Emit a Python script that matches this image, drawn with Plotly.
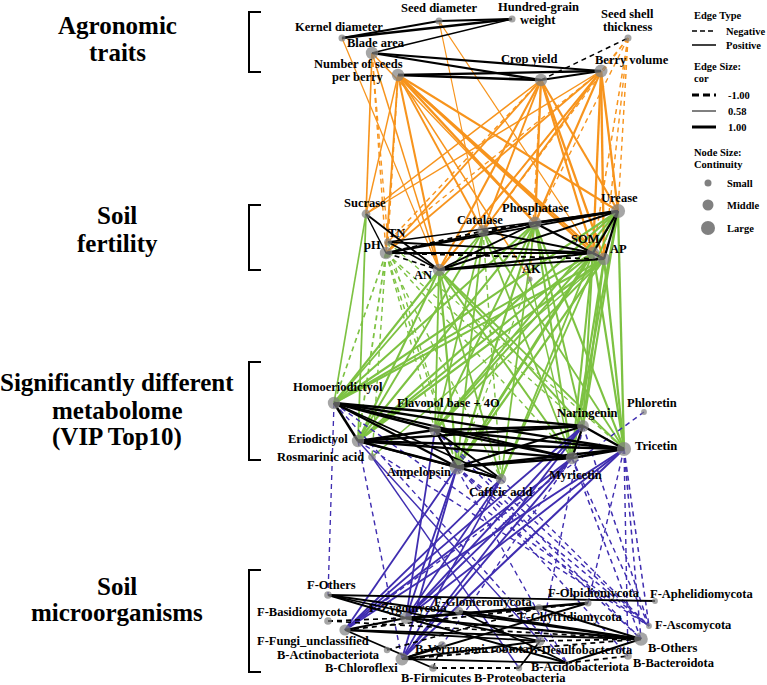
import plotly.graph_objects as go

# ------------------------------------------------------------------ data
agronomic_nodes = ["Kernel diameter", "Seed diameter", "Hundred-grain weight", "Blade area",
                   "Number of seeds per berry", "Crop yield", "Berry volume", "Seed shell thickness"]
agronomic_continuity = [0.25, 0.25, 0.25, 0.7, 0.7, 0.7, 0.75, 0.25]

soil_nodes = ["Sucrase", "TN", "pH", "Catalase", "Phosphatase", "Urease", "SOM", "AP", "AN", "AK"]
soil_continuity = [0.4, 0.3, 0.7, 0.65, 0.75, 0.85, 0.7, 0.7, 0.7, 0.1]

metabolite_nodes = ["Homoeriodictyol", "Flavonol base + 4O", "Naringenin", "Phloretin", "Eriodictyol",
                    "Tricetin", "Rosmarinic acid", "Ampelopsin", "Myricetin", "Caffeic acid"]
metabolite_continuity = [0.7, 0.65, 0.65, 0.15, 0.7, 0.85, 0.3, 0.9, 0.7, 0.55]

microbe_nodes = ["F-Others", "F-Basidiomycota", "F-Fungi_unclassified", "F-Zygomycota", "F-Glomeromycota",
                 "F-Chytridiomycota", "F-Olpidiomycota", "F-Aphelidiomycota", "F-Ascomycota", "B-Others",
                 "B-Actinobacteriota", "B-Chloroflexi", "B-Verrucomicrobiota", "B-Desulfobacterota",
                 "B-Bacteroidota", "B-Acidobacteriota", "B-Firmicutes", "B-Proteobacteria"]
microbe_continuity = [0.3, 0.3, 0.6, 0.65, 0.35, 0.3, 0.25, 0.15, 0.15, 0.8,
                      0.2, 0.75, 0.3, 0.45, 0.3, 0.05, 0.3, 0.2]

# edges: (node A, node B, correlation)
agro_edges = [
    ("Kernel diameter", "Seed diameter", 0.9), ("Kernel diameter", "Hundred-grain weight", 0.92),
    ("Seed diameter", "Hundred-grain weight", 0.88), ("Blade area", "Hundred-grain weight", 0.75),
    ("Blade area", "Berry volume", 0.85), ("Blade area", "Crop yield", 0.9),
    ("Number of seeds per berry", "Crop yield", 0.97), ("Number of seeds per berry", "Berry volume", 0.9),
    ("Crop yield", "Berry volume", 0.85), ("Crop yield", "Seed shell thickness", -0.72),
]
agro_soil_edges = [
    ("Blade area", "Sucrase", 0.75), ("Blade area", "pH", -0.7), ("Blade area", "TN", -0.68),
    ("Blade area", "AN", 0.72), ("Blade area", "Phosphatase", 0.7),
    ("Kernel diameter", "AN", 0.66), ("Seed diameter", "Catalase", 0.65), ("Seed diameter", "SOM", 0.66),
    ("Number of seeds per berry", "pH", 0.8), ("Number of seeds per berry", "TN", -0.7),
    ("Number of seeds per berry", "AN", 0.85), ("Number of seeds per berry", "Catalase", 0.8),
    ("Number of seeds per berry", "Phosphatase", 0.95), ("Number of seeds per berry", "SOM", 0.95),
    ("Number of seeds per berry", "AP", 0.9), ("Number of seeds per berry", "Urease", 0.88),
    ("Number of seeds per berry", "AK", 0.7), ("Number of seeds per berry", "Sucrase", 0.7),
    ("Crop yield", "Sucrase", 0.72), ("Crop yield", "pH", 0.8), ("Crop yield", "TN", -0.7),
    ("Crop yield", "AN", 0.85), ("Crop yield", "Catalase", 0.82), ("Crop yield", "Phosphatase", 0.9),
    ("Crop yield", "SOM", 0.88), ("Crop yield", "AP", 0.9), ("Crop yield", "Urease", 0.86),
    ("Crop yield", "AK", -0.66),
    ("Berry volume", "Sucrase", 0.7), ("Berry volume", "pH", 0.78), ("Berry volume", "TN", -0.68),
    ("Berry volume", "AN", 0.84), ("Berry volume", "Catalase", 0.8), ("Berry volume", "Phosphatase", 0.86),
    ("Berry volume", "SOM", 0.9), ("Berry volume", "AP", 0.92), ("Berry volume", "Urease", 0.9),
    ("Seed shell thickness", "Urease", -0.7), ("Seed shell thickness", "SOM", -0.72),
    ("Seed shell thickness", "AP", -0.7), ("Seed shell thickness", "Phosphatase", -0.68),
    ("Seed shell thickness", "Catalase", -0.66), ("Seed shell thickness", "AN", -0.66),
]
soil_edges = [
    ("Sucrase", "AN", 0.8), ("Sucrase", "pH", 0.7), ("pH", "Catalase", -0.8), ("pH", "SOM", 0.85),
    ("pH", "AP", -0.8), ("pH", "Phosphatase", 0.8), ("pH", "AN", -0.78), ("TN", "AN", 0.75),
    ("TN", "SOM", 0.78), ("TN", "Urease", 0.72), ("Catalase", "Phosphatase", -0.85),
    ("Catalase", "Urease", -0.82), ("Catalase", "SOM", 0.8), ("Phosphatase", "Urease", 0.95),
    ("Phosphatase", "AP", 0.85), ("Phosphatase", "AN", 0.8), ("AN", "SOM", 0.85), ("AN", "AP", 0.82),
    ("AN", "Urease", 0.85), ("Urease", "SOM", 0.88), ("Urease", "AP", 0.9), ("SOM", "AP", 0.92),
    ("pH", "Urease", 0.8),
]
soil_metab_edges = [
    ("pH", "Homoeriodictyol", -0.75), ("pH", "Eriodictyol", -0.78), ("pH", "Rosmarinic acid", -0.7),
    ("pH", "Flavonol base + 4O", -0.7), ("pH", "Ampelopsin", -0.72), ("pH", "Caffeic acid", -0.68),
    ("pH", "Myricetin", -0.7), ("pH", "Naringenin", -0.68),
    ("Sucrase", "Homoeriodictyol", 0.75), ("Sucrase", "Eriodictyol", 0.78),
    ("TN", "Ampelopsin", -0.68), ("TN", "Tricetin", -0.66),
    ("AN", "Homoeriodictyol", 0.85), ("AN", "Eriodictyol", 0.85), ("AN", "Flavonol base + 4O", 0.8),
    ("AN", "Ampelopsin", 0.88), ("AN", "Myricetin", 0.82), ("AN", "Naringenin", 0.8),
    ("AN", "Tricetin", 0.82), ("AN", "Caffeic acid", 0.78),
    ("Catalase", "Homoeriodictyol", 0.8), ("Catalase", "Eriodictyol", 0.82), ("Catalase", "Ampelopsin", 0.8),
    ("Catalase", "Flavonol base + 4O", 0.78), ("Catalase", "Myricetin", 0.78), ("Catalase", "Tricetin", 0.8),
    ("Catalase", "Caffeic acid", -0.7),
    ("Phosphatase", "Homoeriodictyol", 0.85), ("Phosphatase", "Eriodictyol", 0.86),
    ("Phosphatase", "Flavonol base + 4O", 0.82), ("Phosphatase", "Ampelopsin", 0.88),
    ("Phosphatase", "Naringenin", 0.82), ("Phosphatase", "Myricetin", 0.84),
    ("Phosphatase", "Tricetin", 0.85), ("Phosphatase", "Caffeic acid", 0.78),
    ("AK", "Ampelopsin", -0.66), ("AK", "Myricetin", 0.7),
    ("SOM", "Homoeriodictyol", 0.85), ("SOM", "Eriodictyol", 0.86), ("SOM", "Flavonol base + 4O", 0.82),
    ("SOM", "Ampelopsin", 0.88), ("SOM", "Naringenin", 0.84), ("SOM", "Myricetin", 0.85),
    ("SOM", "Tricetin", 0.88), ("SOM", "Caffeic acid", 0.8),
    ("AP", "Homoeriodictyol", 0.86), ("AP", "Eriodictyol", 0.88), ("AP", "Flavonol base + 4O", 0.82),
    ("AP", "Ampelopsin", 0.88), ("AP", "Naringenin", 0.85), ("AP", "Myricetin", 0.86),
    ("AP", "Tricetin", 0.9), ("AP", "Rosmarinic acid", 0.72),
    ("Urease", "Homoeriodictyol", 0.88), ("Urease", "Eriodictyol", 0.9), ("Urease", "Flavonol base + 4O", 0.84),
    ("Urease", "Ampelopsin", 0.9), ("Urease", "Naringenin", 0.86), ("Urease", "Myricetin", 0.86),
    ("Urease", "Tricetin", 0.9), ("Urease", "Caffeic acid", 0.8),
]
metab_edges = [
    ("Homoeriodictyol", "Eriodictyol", 0.95), ("Homoeriodictyol", "Naringenin", 0.9),
    ("Homoeriodictyol", "Tricetin", 0.92), ("Homoeriodictyol", "Flavonol base + 4O", 0.93),
    ("Homoeriodictyol", "Ampelopsin", 0.92), ("Homoeriodictyol", "Myricetin", 0.9),
    ("Homoeriodictyol", "Caffeic acid", 0.8), ("Eriodictyol", "Naringenin", 0.92),
    ("Eriodictyol", "Tricetin", 0.95), ("Eriodictyol", "Myricetin", 0.92), ("Eriodictyol", "Ampelopsin", 0.93),
    ("Eriodictyol", "Flavonol base + 4O", 0.9), ("Flavonol base + 4O", "Naringenin", 0.92),
    ("Flavonol base + 4O", "Tricetin", 0.93), ("Flavonol base + 4O", "Myricetin", 0.9),
    ("Flavonol base + 4O", "Ampelopsin", 0.9), ("Flavonol base + 4O", "Caffeic acid", 0.82),
    ("Ampelopsin", "Naringenin", 0.9), ("Ampelopsin", "Tricetin", 0.95), ("Ampelopsin", "Myricetin", 0.95),
    ("Naringenin", "Tricetin", 0.92), ("Naringenin", "Myricetin", 0.9), ("Myricetin", "Tricetin", 0.95),
    ("Ampelopsin", "Caffeic acid", 0.85), ("Eriodictyol", "Caffeic acid", 0.8),
]
metab_microbe_edges = [
    ("Homoeriodictyol", "B-Acidobacteriota", -0.7), ("Homoeriodictyol", "F-Ascomycota", -0.7),
    ("Homoeriodictyol", "F-Others", -0.68),
    ("Eriodictyol", "B-Chloroflexi", -0.7), ("Eriodictyol", "B-Desulfobacterota", 0.7),
    ("Eriodictyol", "F-Ascomycota", -0.7), ("Rosmarinic acid", "B-Proteobacteria", 0.7),
    ("Ampelopsin", "F-Zygomycota", 0.8), ("Ampelopsin", "F-Fungi_unclassified", 0.8),
    ("Ampelopsin", "B-Chloroflexi", 0.8), ("Ampelopsin", "B-Others", -0.72),
    ("Ampelopsin", "F-Ascomycota", -0.72), ("Ampelopsin", "B-Bacteroidota", -0.7),
    ("Caffeic acid", "F-Fungi_unclassified", 0.78), ("Caffeic acid", "F-Zygomycota", 0.78),
    ("Caffeic acid", "B-Chloroflexi", 0.75), ("Caffeic acid", "F-Ascomycota", -0.68),
    ("Myricetin", "F-Zygomycota", 0.8), ("Myricetin", "B-Chloroflexi", 0.82),
    ("Myricetin", "B-Verrucomicrobiota", -0.7), ("Myricetin", "F-Fungi_unclassified", 0.8),
    ("Myricetin", "B-Others", -0.72), ("Myricetin", "F-Ascomycota", -0.7),
    ("Naringenin", "B-Chloroflexi", 0.8), ("Naringenin", "F-Zygomycota", 0.8),
    ("Naringenin", "F-Ascomycota", -0.72), ("Naringenin", "B-Desulfobacterota", -0.7),
    ("Naringenin", "F-Fungi_unclassified", 0.78),
    ("Tricetin", "F-Fungi_unclassified", 0.82), ("Tricetin", "B-Chloroflexi", 0.85),
    ("Tricetin", "F-Zygomycota", 0.82), ("Tricetin", "B-Others", -0.72),
    ("Tricetin", "B-Bacteroidota", -0.7), ("Tricetin", "F-Ascomycota", -0.72),
    ("Tricetin", "F-Olpidiomycota", -0.7),
    ("Phloretin", "F-Fungi_unclassified", -0.7),
    ("Flavonol base + 4O", "F-Ascomycota", -0.7), ("Flavonol base + 4O", "B-Others", -0.7),
    ("Flavonol base + 4O", "F-Zygomycota", 0.78), ("Flavonol base + 4O", "B-Acidobacteriota", -0.68),
]
microbe_edges = [
    ("F-Others", "F-Aphelidiomycota", 0.8), ("F-Others", "B-Others", 0.82), ("F-Others", "F-Zygomycota", 0.8),
    ("F-Others", "B-Desulfobacterota", 0.78), ("F-Basidiomycota", "F-Zygomycota", -0.75),
    ("F-Basidiomycota", "B-Others", -0.75), ("F-Fungi_unclassified", "F-Olpidiomycota", -0.78),
    ("F-Fungi_unclassified", "B-Others", 0.82), ("F-Fungi_unclassified", "B-Firmicutes", 0.8),
    ("F-Fungi_unclassified", "B-Desulfobacterota", 0.8), ("F-Fungi_unclassified", "F-Zygomycota", 0.82),
    ("F-Zygomycota", "F-Olpidiomycota", 0.9), ("F-Zygomycota", "B-Others", 0.9),
    ("F-Zygomycota", "F-Chytridiomycota", 0.9), ("F-Zygomycota", "B-Acidobacteriota", 0.8),
    ("F-Glomeromycota", "B-Others", 0.85), ("F-Glomeromycota", "B-Acidobacteriota", 0.8),
    ("B-Chloroflexi", "F-Olpidiomycota", 0.8), ("B-Chloroflexi", "B-Others", -0.78),
    ("B-Chloroflexi", "B-Desulfobacterota", 0.82), ("B-Chloroflexi", "B-Acidobacteriota", 0.8),
    ("B-Chloroflexi", "B-Verrucomicrobiota", 0.8), ("B-Actinobacteriota", "F-Chytridiomycota", -0.75),
    ("B-Firmicutes", "B-Proteobacteria", -0.8), ("B-Firmicutes", "B-Verrucomicrobiota", -0.72),
    ("B-Acidobacteriota", "B-Others", 0.8), ("B-Acidobacteriota", "B-Bacteroidota", -0.78),
    ("B-Desulfobacterota", "B-Others", -0.78), ("B-Desulfobacterota", "B-Proteobacteria", 0.75),
    ("F-Chytridiomycota", "B-Others", 0.85),
]

group_title_lines = [["Agronomic", "traits"], ["Soil", "fertility"],
                     ["Significantly different", "metabolome", "(VIP Top10)"], ["Soil", "microorganisms"]]

# ------------------------------------------------------------------ layout (canvas px)
# name: (x, y, label dx, label dy, label anchor)
node_layout = {
    "Kernel diameter": (342, 38, -3, -11, "center"), "Seed diameter": (439, 21, 0, -13, "center"),
    "Hundred-grain weight": (512, 19, 26, -6, "center"), "Blade area": (372, 53, 4, -10, "center"),
    "Number of seeds per berry": (398, 75, -40, -5, "center"), "Crop yield": (541, 80, -12, -21, "center"),
    "Berry volume": (601, 71, 31, -11, "center"), "Seed shell thickness": (628, 38, -1, -18, "center"),
    "Sucrase": (366, 214, -1, -11, "center"), "TN": (388, 242, 8, -9, "center"),
    "pH": (386, 253, -14, -8, "center"), "Catalase": (483, 231, -3, -11, "center"),
    "Phosphatase": (535, 223, 0, -15, "center"), "Urease": (618, 211, 1, -13, "center"),
    "SOM": (593, 253, -8, -14, "center"), "AP": (604, 259, 14, -10, "center"),
    "AN": (439, 270, -16, 5, "center"), "AK": (530, 279, 1, -10, "center"),
    "Homoeriodictyol": (334, 403, 4, -16, "center"), "Flavonol base + 4O": (435, 430, 13, -27, "center"),
    "Naringenin": (583, 426, 4, -13, "center"), "Phloretin": (644, 412, 8, -9, "center"),
    "Eriodictyol": (358, 441, -8, -2, "right"), "Tricetin": (624, 449, 9, -3, "left"),
    "Rosmarinic acid": (372, 457, -6, 0, "right"), "Ampelopsin": (457, 467, -38, 5, "center"),
    "Myricetin": (572, 458, 3, 17, "center"), "Caffeic acid": (501, 479, 0, 13, "center"),
    "F-Others": (328, 595, 3, -10, "center"), "F-Basidiomycota": (328, 621, -26, -9, "center"),
    "F-Fungi_unclassified": (345, 630, -32, 11, "center"), "F-Zygomycota": (406, 618, 2, -10, "center"),
    "F-Glomeromycota": (459, 611, 24, -9, "center"), "F-Chytridiomycota": (539, 608, 32, 9, "center"),
    "F-Olpidiomycota": (588, 603, 6, -10, "center"), "F-Aphelidiomycota": (655, 601, -7, -7, "left"),
    "F-Ascomycota": (649, 626, 4, -1, "left"), "B-Others": (641, 639, 31, 9, "center"),
    "B-Actinobacteriota": (387, 650, -5, 5, "right"), "B-Chloroflexi": (402, 659, -41, 9, "center"),
    "B-Verrucomicrobiota": (442, 645, 30, 4, "center"), "B-Desulfobacterota": (540, 641, 41, 9, "center"),
    "B-Bacteroidota": (628, 656, 46, 7, "center"), "B-Acidobacteriota": (567, 663, 13, 4, "center"),
    "B-Firmicutes": (433, 668, 3, 10, "center"), "B-Proteobacteria": (519, 668, 1, 10, "center"),
}
label_lines = {"Hundred-grain weight": ["Hundred-grain", "weight"],
               "Number of seeds per berry": ["Number of seeds", "per berry"],
               "Seed shell thickness": ["Seed shell", "thickness"]}
title_line_y = [[25, 52], [215, 243], [382, 410, 437], [586, 612]]
title_x = 117
brackets = [(12, 72), (205, 270), (362, 460), (570, 672)]

FONT = "Liberation Serif"
NODE_COLOR = "#808080"
ORANGE, GREEN, PURPLE, BLACK = "#F7941D", "#7DC242", "#3F2DB0", "#000000"


def width_of(c):
    return 1.0 + (abs(c) - 0.6) / 0.4 * 1.7


fig = go.Figure()


def add_edges(edges, color):
    for a, b, c in edges:
        xa, ya = node_layout[a][:2]
        xb, yb = node_layout[b][:2]
        fig.add_trace(go.Scatter(
            x=[xa, xb], y=[ya, yb], mode="lines", hoverinfo="skip", showlegend=False,
            line=dict(color=color, width=width_of(c), dash="solid" if c > 0 else "5px,4px")))


add_edges(agro_soil_edges, ORANGE)
add_edges(soil_metab_edges, GREEN)
add_edges(metab_microbe_edges, PURPLE)
for e in (agro_edges, soil_edges, metab_edges, microbe_edges):
    add_edges(e, BLACK)

annotations = []
for names, cont in ((agronomic_nodes, agronomic_continuity), (soil_nodes, soil_continuity),
                    (metabolite_nodes, metabolite_continuity), (microbe_nodes, microbe_continuity)):
    fig.add_trace(go.Scatter(
        x=[node_layout[n][0] for n in names], y=[node_layout[n][1] for n in names],
        mode="markers", showlegend=False, hoverinfo="text", text=names,
        marker=dict(color=NODE_COLOR, size=[4 + 12 * c for c in cont], line=dict(width=0))))
    for n in names:
        x, y, dx, dy, anc = node_layout[n]
        lines = label_lines.get(n, [n])
        k = len(lines)
        for i, ln in enumerate(lines):
            annotations.append(dict(
                x=x + dx, y=y + dy + (i - (k - 1) / 2) * 13, text="<b>" + ln + "</b>",
                showarrow=False, xref="x", yref="y", xanchor=anc, yanchor="middle",
                font=dict(family=FONT, size=12.5, color="black")))

shapes = []
for (y0, y1) in brackets:
    shapes.append(dict(type="path", path=f"M 261 {y0} L 249 {y0} L 249 {y1} L 261 {y1}",
                       line=dict(color="black", width=2), xref="x", yref="y"))

for lines, ys in zip(group_title_lines, title_line_y):
    for ln, yy in zip(lines, ys):
        annotations.append(dict(x=title_x, y=yy, text="<b>" + ln + "</b>", showarrow=False,
                                xref="x", yref="y", xanchor="center", yanchor="middle",
                                font=dict(family=FONT, size=25, color="black")))

# legend
LX = 692


def leg_text(x, y, t, size=10.5):
    annotations.append(dict(x=x, y=y, text="<b>" + t + "</b>", showarrow=False, xref="x", yref="y",
                            xanchor="left", yanchor="middle",
                            font=dict(family=FONT, size=size, color="black")))


leg_text(LX, 15, "Edge Type")
shapes.append(dict(type="line", x0=LX, x1=LX + 24, y0=31, y1=31, line=dict(color="black", width=1.5, dash="5px,3px")))
leg_text(LX + 32, 31, "Negative")
shapes.append(dict(type="line", x0=LX, x1=LX + 24, y0=45, y1=45, line=dict(color="black", width=1.5)))
leg_text(LX + 32, 45, "Positive")
leg_text(LX, 66, "Edge Size:")
leg_text(LX, 78, "cor")
shapes.append(dict(type="line", x0=LX, x1=LX + 24, y0=95, y1=95, line=dict(color="black", width=3, dash="7px,4px")))
leg_text(LX + 34, 95, "-1.00")
shapes.append(dict(type="line", x0=LX, x1=LX + 24, y0=111, y1=111, line=dict(color="black", width=1)))
leg_text(LX + 34, 111, "0.58")
shapes.append(dict(type="line", x0=LX, x1=LX + 24, y0=127, y1=127, line=dict(color="black", width=3)))
leg_text(LX + 34, 127, "1.00")
leg_text(LX, 152, "Node Size:")
leg_text(LX, 164, "Continuity")
for (yy, dd, lab) in ((183, 7, "Small"), (205, 11, "Middle"), (228, 14, "Large")):
    shapes.append(dict(type="circle", x0=708 - dd / 2, x1=708 + dd / 2, y0=yy - dd / 2, y1=yy + dd / 2,
                       fillcolor=NODE_COLOR, line=dict(width=0)))
    leg_text(725, yy, lab)

fig.update_layout(
    width=767, height=685, margin=dict(l=0, r=0, t=0, b=0),
    paper_bgcolor="white", plot_bgcolor="white",
    xaxis=dict(range=[0, 767], visible=False, fixedrange=True),
    yaxis=dict(range=[685, 0], visible=False, fixedrange=True),
    shapes=shapes, annotations=annotations, showlegend=False,
)
fig.write_html("out.html", config={"displayModeBar": False},
               post_script="document.body.style.margin='0';document.body.style.overflow='hidden';")
